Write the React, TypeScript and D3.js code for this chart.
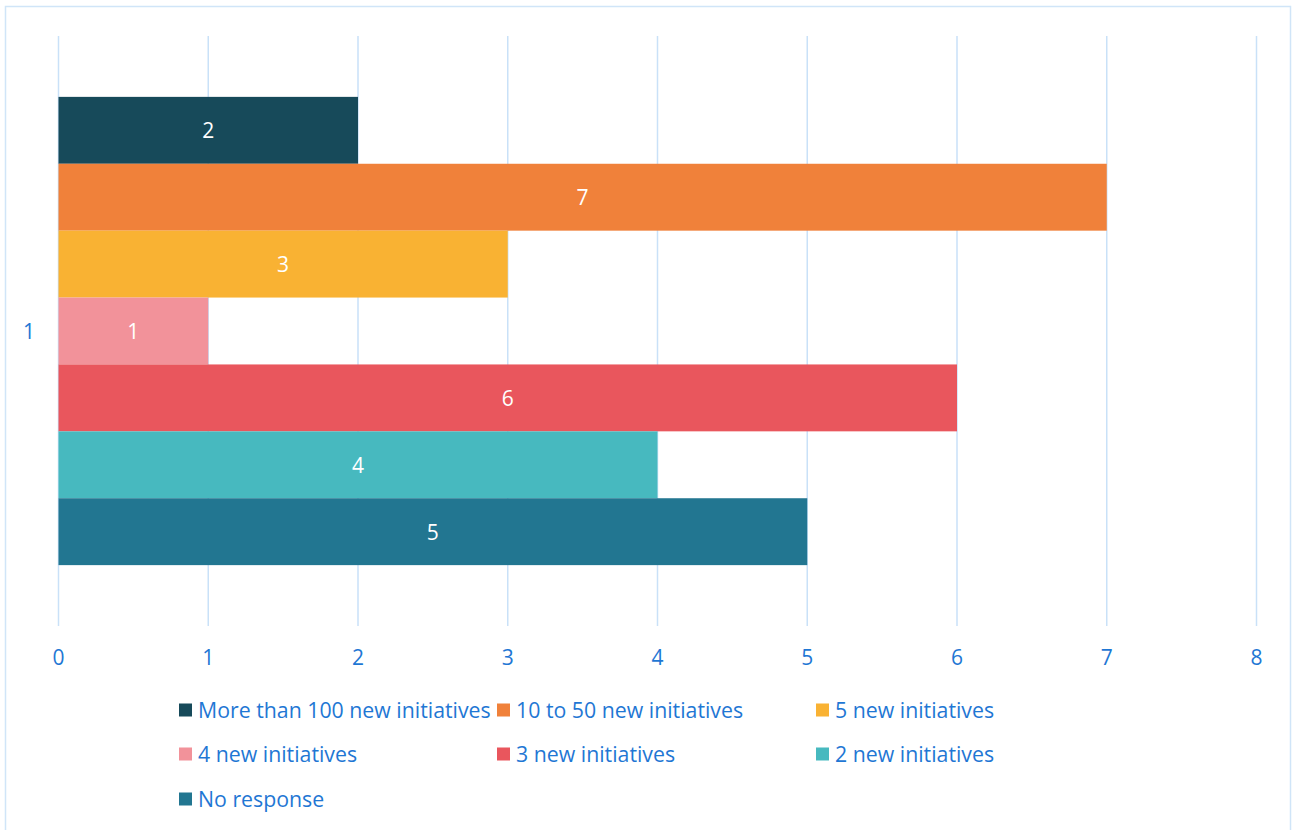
import React from "react";
import * as d3 from "d3";

const categories = ["1"];
const seriesNames = [
  "More than 100 new initiatives",
  "10 to 50 new initiatives",
  "5 new initiatives",
  "4 new initiatives",
  "3 new initiatives",
  "2 new initiatives",
  "No response",
];
const seriesValues = [2, 7, 3, 1, 6, 4, 5];
const seriesColors = ["#174a5a", "#f0813a", "#f9b233", "#f2929a", "#e9565d", "#47b9bf", "#227691"];
const xTicks = [0, 1, 2, 3, 4, 5, 6, 7, 8];

const W = 1292;
const H = 830;
const FONT = "'Open Sans', 'Noto Sans', sans-serif";
const TEXT = "#1f77d4";
const GRID = "#c9e1f8";

export default function App() {
  const x = d3.scaleLinear().domain([0, 8]).range([58.5, 1256.5]);
  const y = d3.scaleBand<string>().domain(categories).range([36, 626]).paddingInner(0).paddingOuter(0.13);
  const ySub = d3.scaleBand<string>().domain(seriesNames).range([0, y.bandwidth()]).padding(0);

  const legendCols = [179, 497, 816];
  const legendRows = [710, 754, 799];

  return (
    <svg width={W} height={H} style={{ position: "absolute", left: 0, top: 0, background: "#fff" }} fontFamily={FONT}>
      <rect x={5.5} y={6.5} width={1285} height={840} fill="#fff" stroke="#d0e5f8" strokeWidth={1.5} />
      {xTicks.map((t) => (
        <g key={t}>
          <line x1={x(t)} x2={x(t)} y1={36} y2={626} stroke={GRID} strokeWidth={1.5} />
          <text x={x(t)} y={665} textAnchor="middle" fontSize={21} fill={TEXT}>
            {t}
          </text>
        </g>
      ))}
      {categories.map((c) => (
        <g key={c}>
          <text x={29} y={(y(c) as number) + y.bandwidth() / 2 + 8} textAnchor="middle" fontSize={21} fill={TEXT}>
            {c}
          </text>
          {seriesNames.map((s, i) => {
            const y0 = (y(c) as number) + (ySub(s) as number);
            const h = ySub.bandwidth();
            return (
              <g key={s}>
                <rect x={x(0)} y={y0} width={x(seriesValues[i]) - x(0)} height={h} fill={seriesColors[i]} />
                <text
                  x={(x(0) + x(seriesValues[i])) / 2}
                  y={y0 + h / 2 + 8}
                  textAnchor="middle"
                  fontSize={21}
                  fill="#fff"
                >
                  {seriesValues[i]}
                </text>
              </g>
            );
          })}
        </g>
      ))}
      {seriesNames.map((s, i) => {
        const lx = legendCols[i % 3];
        const ly = legendRows[Math.floor(i / 3)];
        return (
          <g key={s}>
            <rect x={lx} y={ly - 6.5} width={13} height={13} fill={seriesColors[i]} />
            <text x={lx + 19} y={ly + 7.5} fontSize={21.3} fill={TEXT}>
              {s}
            </text>
          </g>
        );
      })}
    </svg>
  );
}
